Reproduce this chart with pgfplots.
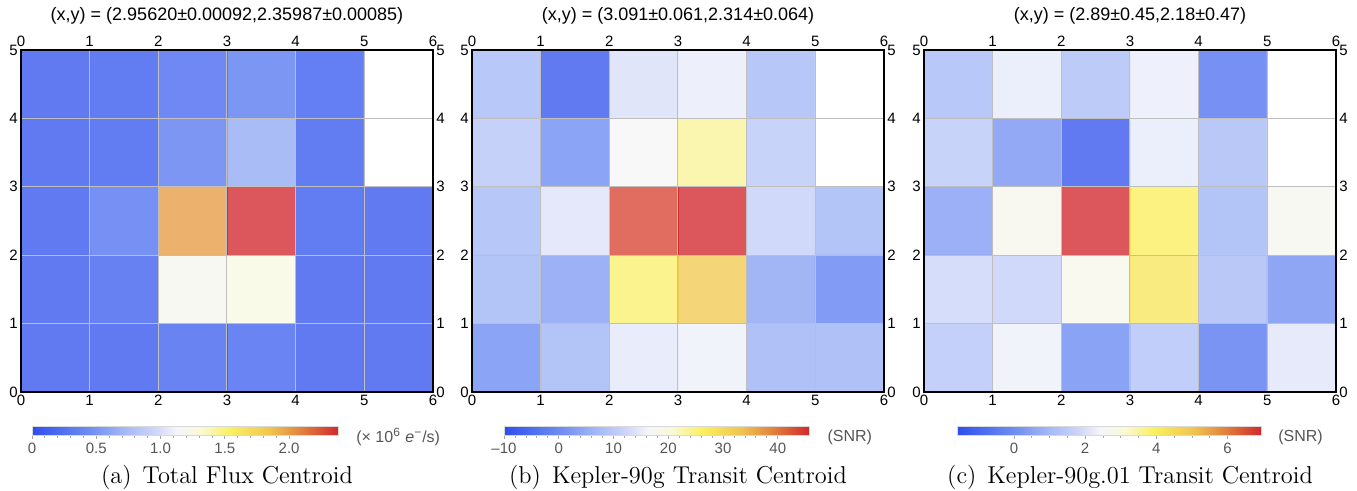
\documentclass[border=0pt]{standalone}
\usepackage{fontspec}
\usepackage{pgfplots}
\pgfplotsset{compat=1.18}
\newfontfamily\arial{Liberation Sans}
\definecolor{lab}{RGB}{85,85,85}
\tikzset{capt/.style={font=\fontsize{12.2}{14}\selectfont}}
\pgfplotsset{
  colormap={temp}{[1pt] rgb255(0pt)=(46,78,238); rgb255(10pt)=(79,113,240); rgb255(20pt)=(116,145,242); rgb255(30pt)=(164,184,246); rgb255(40pt)=(205,213,249); rgb255(47pt)=(244,245,250); rgb255(55pt)=(250,249,215); rgb255(65pt)=(250,240,95); rgb255(78pt)=(240,195,80); rgb255(88pt)=(225,130,60); rgb255(100pt)=(210,40,45)},
  heat/.style={width=206pt,height=171pt,scale only axis,
    xmin=0,xmax=6,ymin=0,ymax=5,xtick={0,...,6},ytick={0,...,5},
    grid=major,grid style={gray!50,line width=0.5pt},axis on top,
    major tick length=0pt,
    tick label style={font=\arial\fontsize{7.5}{9}\selectfont},
    /pgf/number format/assume math mode=true,
    xticklabel style={inner sep=1.5pt},yticklabel style={inner sep=1.5pt},
    colormap name=temp,clip=false,axis line style={line width=0.6pt},
    colorbar horizontal,
    colorbar style={height=4.5pt,scale only axis,
      at={(parent axis.south west)},anchor=north west,yshift=-8.5pt,
      axis line style={gray!30},tick align=outside,xtick pos=left,
      major tick length=2pt,minor tick length=1.3pt,
      tick style={gray!70,line width=0.4pt},
      xticklabel style={font=\arial\fontsize{7.5}{9}\selectfont,text=lab,inner sep=2pt},
      /pgf/number format/assume math mode=true}},
  over/.style={width=206pt,height=171pt,scale only axis,
    xmin=0,xmax=6,ymin=0,ymax=5,xtick={0,...,6},ytick={0,...,5},
    xticklabel pos=upper,yticklabel pos=right,axis line style={draw=none},
    major tick length=0pt,
    tick label style={font=\arial\fontsize{7.5}{9}\selectfont},
    xticklabel style={inner sep=1.5pt},yticklabel style={inner sep=1.5pt},
    /pgf/number format/assume math mode=true},
  cell/.style={matrix plot*,mesh/cols=6,point meta=explicit,opacity=0.78}
}
\pgfplotstableread{
x y c
0.5 0.5 0.04
1.5 0.5 0.05
2.5 0.5 0.12
3.5 0.5 0.13
4.5 0.5 0.04
5.5 0.5 0.04
0.5 1.5 0.05
1.5 1.5 0.10
2.5 1.5 1.18
3.5 1.5 1.25
4.5 1.5 0.05
5.5 1.5 0.05
0.5 2.5 0.05
1.5 2.5 0.24
2.5 2.5 2.00
3.5 2.5 2.38
4.5 2.5 0.06
5.5 2.5 0.05
0.5 3.5 0.05
1.5 3.5 0.06
2.5 3.5 0.30
3.5 3.5 0.62
4.5 3.5 0.06
5.5 3.5 1.05
0.5 4.5 0.05
1.5 4.5 0.06
2.5 4.5 0.17
3.5 4.5 0.29
4.5 4.5 0.08
5.5 4.5 1.05
}\tabA
\pgfplotstableread{
x y c
0.5 0.5 0
1.5 0.5 6
2.5 0.5 14.5
3.5 0.5 15.5
4.5 0.5 5.5
5.5 0.5 5.5
0.5 1.5 6
1.5 1.5 2.5
2.5 1.5 25.5
3.5 1.5 32.5
4.5 1.5 3.5
5.5 1.5 -2
0.5 2.5 6.5
1.5 2.5 13.8
2.5 2.5 43.6
3.5 2.5 45.7
4.5 2.5 11
5.5 2.5 6
0.5 3.5 9
1.5 3.5 0
2.5 3.5 16.8
3.5 3.5 23.5
4.5 3.5 9.5
5.5 3.5 16
0.5 4.5 6.7
1.5 4.5 -9
2.5 4.5 13.4
3.5 4.5 15
4.5 4.5 6.5
5.5 4.5 16
}\tabB
\pgfplotstableread{
x y c
0.5 0.5 1.3
1.5 0.5 2.3
2.5 0.5 -0.1
3.5 0.5 1.2
4.5 0.5 -0.6
5.5 0.5 2.1
0.5 1.5 1.75
1.5 1.5 1.6
2.5 1.5 2.7
3.5 1.5 4.2
4.5 1.5 1.0
5.5 1.5 0.0
0.5 2.5 0.3
1.5 2.5 2.67
2.5 2.5 6.94
3.5 2.5 4.0
4.5 2.5 0.85
5.5 2.5 2.65
0.5 3.5 1.4
1.5 3.5 0.1
2.5 3.5 -1.45
3.5 3.5 2.2
4.5 3.5 1.0
5.5 3.5 2.4
0.5 4.5 0.96
1.5 4.5 2.2
2.5 4.5 1.1
3.5 4.5 2.25
4.5 4.5 -0.75
5.5 4.5 2.4
}\tabC
\begin{document}
\begin{tikzpicture}
\useasboundingbox (-10.5pt,-49.5pt) rectangle (668pt,196pt);
% ---------- (a)
\begin{axis}[heat,at={(0pt,0pt)},anchor=south west,
  point meta min=0,point meta max=2.38,
  colorbar style={xshift=5.5pt,width=153pt,
    xtick={0,0.5,1,1.5,2},xticklabels={0,0.5,1.0,1.5,2.0},minor x tick num=4}]
\addplot[cell] table[x=x,y=y,meta=c]{\tabA};
\addplot[fill=white,draw=none] coordinates {(5,3) (6,3) (6,5) (5,5) (5,3)};
\node[font=\arial\fontsize{9}{11}\selectfont] at (axis description cs:0.5,1.099) {(x,y) = (2.95620±0.00092,2.35987±0.00085)};
\node[font=\arial\fontsize{8}{10}\selectfont,text=lab,anchor=west,inner sep=0pt] at (axis description cs:0.813,-0.132) {(× 10\textsuperscript{6} \textit{e}\textsuperscript{−}/s)};
\node[capt] at (axis description cs:0.5,-0.251) {(a)\hspace{0.45em}Total Flux Centroid};
\end{axis}
\begin{axis}[over,at={(0pt,0pt)},anchor=south west]
\end{axis}
% ---------- (b)
\begin{axis}[heat,at={(225.5pt,0pt)},anchor=south west,
  point meta min=-10,point meta max=45.7,
  colorbar style={xshift=16pt,width=152.5pt,
    xtick={-10,0,10,20,30,40},xticklabels={–10,0,10,20,30,40},minor x tick num=4}]
\addplot[cell] table[x=x,y=y,meta=c]{\tabB};
\addplot[fill=white,draw=none] coordinates {(5,3) (6,3) (6,5) (5,5) (5,3)};
\node[font=\arial\fontsize{9}{11}\selectfont] at (axis description cs:0.5,1.099) {(x,y) = (3.091±0.061,2.314±0.064)};
\node[font=\arial\fontsize{8}{10}\selectfont,text=lab,anchor=west,inner sep=0pt] at (axis description cs:0.862,-0.132) {(SNR)};
\node[capt] at (axis description cs:0.5,-0.251) {(b)\hspace{0.45em}Kepler-90g Transit Centroid};
\end{axis}
\begin{axis}[over,at={(225.5pt,0pt)},anchor=south west]
\end{axis}
% ---------- (c)
\begin{axis}[heat,at={(451.5pt,0pt)},anchor=south west,
  point meta min=-1.6,point meta max=6.94,
  colorbar style={xshift=16.5pt,width=152pt,
    xtick={0,2,4,6},xticklabels={0,2,4,6},minor x tick num=3}]
\addplot[cell] table[x=x,y=y,meta=c]{\tabC};
\addplot[fill=white,draw=none] coordinates {(5,3) (6,3) (6,5) (5,5) (5,3)};
\node[font=\arial\fontsize{9}{11}\selectfont] at (axis description cs:0.5,1.099) {(x,y) = (2.89±0.45,2.18±0.47)};
\node[font=\arial\fontsize{8}{10}\selectfont,text=lab,anchor=west,inner sep=0pt] at (axis description cs:0.859,-0.132) {(SNR)};
\node[capt] at (axis description cs:0.5,-0.251) {(c)\hspace{0.45em}Kepler-90g.01 Transit Centroid};
\end{axis}
\begin{axis}[over,at={(451.5pt,0pt)},anchor=south west]
\end{axis}
\end{tikzpicture}
\end{document}
